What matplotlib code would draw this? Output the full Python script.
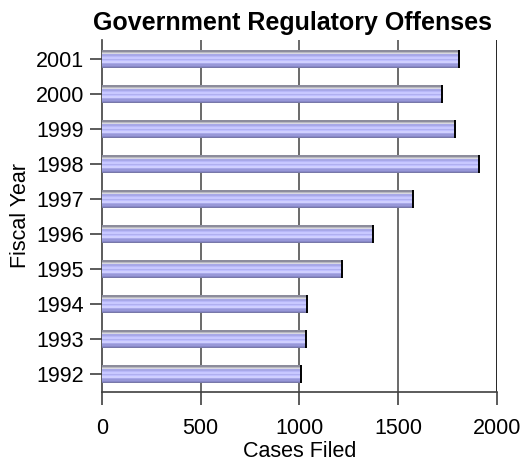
import matplotlib
matplotlib.use("Agg")
import matplotlib.pyplot as plt
import numpy as np

years = ["1992", "1993", "1994", "1995", "1996", "1997", "1998", "1999", "2000", "2001"]
cases = [1008, 1033, 1038, 1215, 1372, 1575, 1909, 1787, 1722, 1808]
xticks = [0, 500, 1000, 1500, 2000]

plt.rcParams['font.family'] = ['Liberation Sans', 'DejaVu Sans']

fig = plt.figure(figsize=(5.23, 4.61), dpi=100)
ax = fig.add_axes([0.195, 0.150, 0.755, 0.763])

# stripe colors from top to bottom of each bar
stripes = ["#8c8c9c", "#b8b8c0", "#d8d8e0", "#a8a8e8", "#b8b8f8", "#c8c8ff",
           "#b0b0f0", "#c0c0ff", "#d0d0ff", "#a8a8e8", "#9898d8", "#8888c8", "#7878a8"]
h = 0.52
n = len(stripes)
pos = np.arange(len(years))
for i, c in enumerate(stripes):
    off = h / 2 - (i + 0.5) * h / n
    ax.barh(pos + off, cases, height=h / n, color=c, linewidth=0, zorder=3)
# end caps
for p, v in zip(pos, cases):
    ax.plot([v, v], [p - h / 2, p + h / 2], color="black", lw=1.4, zorder=4, solid_capstyle="butt")

for x in xticks[1:-1]:
    ax.axvline(x, color="#505050", lw=1.2, zorder=1)
ax.axvline(2000, color="black", lw=1.2, zorder=1)

ax.set_xlim(0, 2000)
ax.set_ylim(-0.5, 9.55)
ax.set_xticks(xticks)
ax.set_yticks(pos)
ax.set_yticklabels(years)
ax.tick_params(axis="both", labelsize=15.5, length=9, width=1.2, color="#404040")
ax.tick_params(axis="x", pad=10)
ax.tick_params(axis="y", pad=4)
for s in ["top", "right"]:
    ax.spines[s].set_visible(False)
for s in ["left", "bottom"]:
    ax.spines[s].set_color("#404040")
    ax.spines[s].set_linewidth(1.2)

ax.set_xlabel("Cases Filed", fontsize=15.5, labelpad=1)
ax.set_ylabel("Fiscal Year", fontsize=15.5, labelpad=3)
ax.set_title("Government Regulatory Offenses", fontsize=18, fontweight="bold", pad=7, x=0.482)

fig.savefig("out.png", dpi=100)
